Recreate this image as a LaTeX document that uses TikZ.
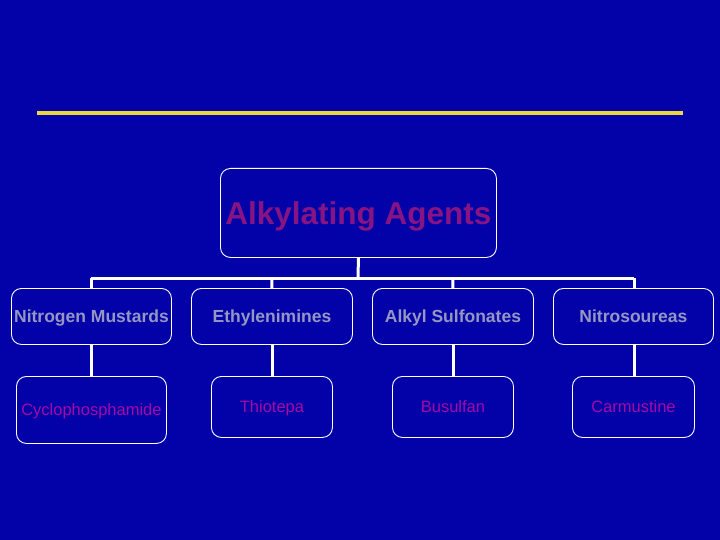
\documentclass[tikz,border=0pt]{standalone}
\usepackage{fontspec}
\setmainfont{Liberation Sans}
\definecolor{bgblue}{RGB}{2,2,168}
\definecolor{titlecol}{RGB}{135,20,130}
\definecolor{rowtwo}{RGB}{150,150,195}
\definecolor{rowthree}{RGB}{165,10,165}
\definecolor{rule}{RGB}{232,216,60}
\begin{document}
\begin{tikzpicture}[x=1pt,y=-1pt,
  box/.style={draw=white,line width=0.9pt,rounded corners=10pt,inner sep=0pt,anchor=north west,text depth=0pt},
  catbox/.style={box,font=\bfseries\fontsize{17.5}{20}\selectfont,text=rowtwo,text height=12.5pt},
  drugbox/.style={box,font=\fontsize{16.5}{19}\selectfont,text=rowthree,text height=11.8pt},
  link/.style={draw=white,line width=3pt}]
\fill[bgblue] (0,0) rectangle (720,540);
\useasboundingbox (0,0) rectangle (720,540);
\draw[rule,line width=4pt] (37,113) -- (683,113);
\node[box,minimum width=276pt,minimum height=89pt,font=\bfseries\fontsize{31.5}{36}\selectfont,text=titlecol,text height=22.4pt] (top) at (220,168) {Alkylating Agents};
\node[catbox,minimum width=160pt,minimum height=56pt] (n1) at (11,288) {Nitrogen Mustards};
\node[catbox,minimum width=161pt,minimum height=56pt] (n2) at (191,288) {Ethylenimines};
\node[catbox,minimum width=161pt,minimum height=56pt] (n3) at (372,288) {Alkyl Sulfonates};
\node[catbox,minimum width=160pt,minimum height=56pt] (n4) at (553,288) {Nitrosoureas};
\node[drugbox,minimum width=150pt,minimum height=67pt] (c1) at (16,376) {Cyclophosphamide};
\node[drugbox,minimum width=121pt,minimum height=61pt] (c2) at (211,376) {Thiotepa};
\node[drugbox,minimum width=121pt,minimum height=61pt] (c3) at (392,376) {Busulfan};
\node[drugbox,minimum width=122pt,minimum height=61pt] (c4) at (572,376) {Carmustine};
\coordinate (hub) at (358,278);
\coordinate (hl) at (91,278);
\coordinate (hr) at (634,278);
\draw[link] (top.south) -- (hub);
\draw[link] (hl) -- (hr);
\draw[link] (hl) -- (hl |- n1.north);
\draw[link] (272,278) -- (n2.north);
\draw[link] (453,278) -- (n3.north);
\draw[link] (634,278) -- (634,288);
\draw[link] (n1.south) -- (c1.north);
\draw[link] (272,344) -- (272,376);
\draw[link] (453,344) -- (453,376);
\draw[link] (634,344) -- (634,376);
\end{tikzpicture}
\end{document}
